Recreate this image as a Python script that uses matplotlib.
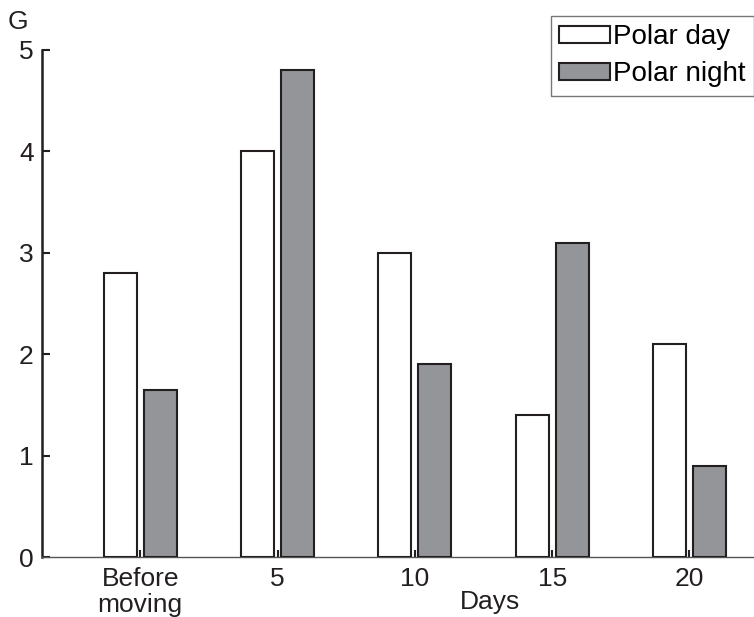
import numpy as np
import matplotlib.pyplot as plt

plt.rcParams['font.family'] = ['Liberation Sans', 'DejaVu Sans']

days = ["Before\nmoving", "5", "10", "15", "20"]
polar_day = [2.8, 4.0, 3.0, 1.4, 2.1]
polar_night = [1.65, 4.8, 1.9, 3.1, 0.9]

x = np.arange(1, len(days) + 1)
w = 0.24
off = 0.145
fs = 19

fig = plt.figure(figsize=(7.54, 6.17), dpi=100)
ax = fig.add_axes([0.0557, 0.0972, 0.9443, 0.8218])

ax.bar(x - off, polar_day, w, color='white', edgecolor='#231f20', linewidth=1.5,
       label='Polar day', zorder=3)
ax.bar(x + off, polar_night, w, color='#939598', edgecolor='#231f20', linewidth=1.5,
       label='Polar night', zorder=3)

ax.set_xlim(0.285, 5.47)
ax.set_ylim(0, 5)
ax.set_yticks([0, 1, 2, 3, 4, 5])
ax.set_xticks(x)
ax.set_xticklabels(days, va='top', linespacing=1.12)

for s in ['top', 'right']:
    ax.spines[s].set_visible(False)
ax.spines['left'].set_linewidth(1.8)
ax.spines['left'].set_color('#231f20')
ax.spines['bottom'].set_linewidth(1.0)
ax.spines['bottom'].set_color('#555555')

ax.tick_params(axis='y', direction='in', length=6, width=1.5, labelsize=fs,
               pad=6, colors='#231f20')
ax.tick_params(axis='x', direction='in', length=5, width=1.5, labelsize=fs,
               pad=7, colors='#231f20')

fig.text(18 / 754, 1 - 22 / 617, 'G', fontsize=fs, ha='center', va='center',
         color='#231f20')
fig.text(490 / 754, 1 - 602 / 617, 'Days', fontsize=fs, ha='center', va='center',
         color='#231f20')

leg = fig.legend(loc='upper right', bbox_to_anchor=(1.0, 1 - 16 / 617), fontsize=20,
                 frameon=True, fancybox=False, edgecolor='#555555',
                 handlelength=1.85, handleheight=0.6, handletextpad=0.1,
                 borderpad=0.3, labelspacing=0.4, borderaxespad=0)
leg.get_frame().set_linewidth(1.0)

fig.savefig('out.png', dpi=100)
